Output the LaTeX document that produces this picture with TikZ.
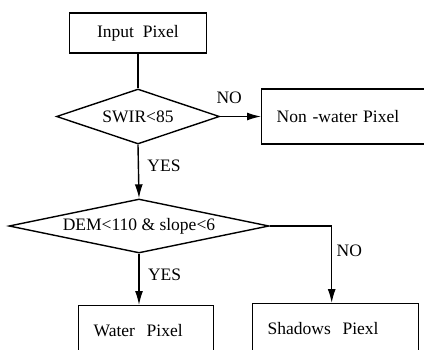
\documentclass[tikz,border=0pt]{standalone}
\usepackage{fontspec}
\setmainfont{Liberation Serif}
\usetikzlibrary{positioning, arrows.meta, shapes.geometric}
\tikzset{
  procbox/.style={draw, line width=1.4pt, minimum height=40pt, inner sep=0pt,
                  font=\fontsize{17.5}{20}\selectfont},
  decision/.style={draw, diamond, line width=1.4pt, inner sep=0pt,
                   font=\fontsize{17.5}{20}\selectfont},
  flowline/.style={line width=1.4pt},
  flowarrow/.style={-{Latex[length=14pt, width=8pt]}, line width=1.4pt},
  lbl/.style={font=\fontsize{17.5}{20}\selectfont}
}

\begin{document}
\begin{tikzpicture}[x=1pt, y=-1pt]
    \useasboundingbox (0,0) rectangle (424,349);
    \clip (0,0) rectangle (424,349);
    \node[procbox, minimum width=137pt] (inpix) at (138, 33) {Input\ \ Pixel};
    \node[decision, aspect=2.96, minimum width=163pt, minimum height=55pt] (swir) at (138, 116.5) {SWIR<85};
    \node[procbox, minimum height=55pt, text width=155pt, align=left, inner xsep=15pt, anchor=west] (nonwat) at (261, 116.5) {Non -water Pixel};
    \node[decision, aspect=4.8, minimum width=260pt, minimum height=54pt] (demsl) at (139, 226) {DEM<110 \& slope<6};
    \node[procbox, minimum height=50pt, text width=105pt, align=left, inner xsep=15pt, anchor=north west] (water) at (78, 305) {Water\ \ Pixel};
    \node[procbox, minimum height=50pt, text width=136pt, align=left, inner xsep=15pt, anchor=north west] (shadow) at (252, 303) {Shadows\ \ Piexl};
    \draw[flowline] (inpix.south) -- (inpix.south |- swir.north);
    \draw[flowarrow] (swir.east) -- node[lbl, pos=0.22, above=9pt] {NO} (nonwat.west);
    \draw[flowarrow] (swir.south) -- node[lbl, pos=0.4, right=5pt] {YES} (demsl.north);
    \draw[flowarrow] (demsl.south) -- node[lbl, pos=0.42, right=5pt] {YES} (demsl.south |- water.north);
    \draw[flowarrow] (demsl.east) -| node[lbl, pos=0.66, right=1pt] {NO} ([xshift=-4pt]shadow.north);
\end{tikzpicture}
\end{document}
